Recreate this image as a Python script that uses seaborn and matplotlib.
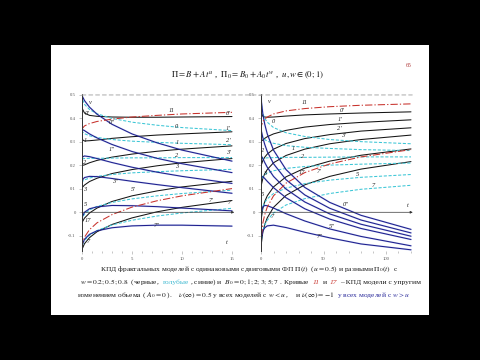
import matplotlib
matplotlib.use("Agg")
import matplotlib.pyplot as plt
from matplotlib.patches import Rectangle, ConnectionPatch
import pandas as pd
import seaborn as sns

# --- values ---
B0_LEVELS = [0, 1, 2, 3, 5, 7]

T_LEFT = [0, 0.05, 0.25, 0.75, 1.5, 3, 5, 7.5, 10, 15]
LEFT_W02 = [
    [0.500, 0.440, 0.423, 0.413, 0.409, 0.406, 0.405, 0.405, 0.406, 0.408],
    [0.350, 0.309, 0.304, 0.305, 0.308, 0.315, 0.322, 0.329, 0.334, 0.343],
    [0.227, 0.200, 0.202, 0.211, 0.221, 0.235, 0.248, 0.260, 0.269, 0.283],
    [0.125, 0.107, 0.116, 0.131, 0.145, 0.165, 0.182, 0.198, 0.211, 0.229],
    [-0.036, -0.040, -0.025, -0.003, 0.018, 0.046, 0.070, 0.091, 0.108, 0.132],
    [-0.156, -0.153, -0.134, -0.108, -0.083, -0.052, -0.024, 0.002, 0.021, 0.050],
]
LEFT_W05 = [
    [0.500, 0.481, 0.460, 0.438, 0.420, 0.400, 0.384, 0.371, 0.361, 0.348],
    [0.350, 0.343, 0.335, 0.326, 0.319, 0.310, 0.303, 0.298, 0.294, 0.288],
    [0.227, 0.228, 0.229, 0.230, 0.230, 0.231, 0.232, 0.232, 0.233, 0.233],
    [0.125, 0.132, 0.138, 0.146, 0.153, 0.161, 0.168, 0.173, 0.177, 0.183],
    [-0.036, -0.022, -0.008, 0.010, 0.025, 0.042, 0.057, 0.070, 0.080, 0.094],
    [-0.156, -0.139, -0.120, -0.098, -0.078, -0.054, -0.034, -0.016, -0.003, 0.017],
]
LEFT_W08 = [
    [0.500, 0.493, 0.476, 0.448, 0.418, 0.375, 0.334, 0.296, 0.265, 0.218],
    [0.350, 0.352, 0.348, 0.334, 0.317, 0.289, 0.259, 0.230, 0.207, 0.169],
    [0.227, 0.236, 0.240, 0.237, 0.229, 0.212, 0.192, 0.171, 0.153, 0.123],
    [0.125, 0.138, 0.148, 0.153, 0.152, 0.144, 0.132, 0.118, 0.105, 0.081],
    [-0.036, -0.017, 0.000, 0.015, 0.023, 0.029, 0.028, 0.024, 0.018, 0.006],
    [-0.156, -0.135, -0.115, -0.094, -0.079, -0.066, -0.058, -0.055, -0.055, -0.059],
]
LEFT_RED11 = [0.350, 0.358, 0.368, 0.378, 0.387, 0.397, 0.406, 0.413, 0.419, 0.426]
LEFT_RED17 = [-0.156, -0.133, -0.106, -0.074, -0.045, -0.010, 0.022, 0.049, 0.070, 0.101]

T_RIGHT = [0, 0.25, 1.5, 3, 5, 10, 20, 35, 55, 80, 120]
RIGHT_W02 = [
    [0.500, 0.423, 0.409, 0.406, 0.405, 0.406, 0.410, 0.415, 0.419, 0.423, 0.428],
    [0.350, 0.304, 0.308, 0.315, 0.322, 0.334, 0.349, 0.363, 0.374, 0.383, 0.394],
    [0.227, 0.202, 0.221, 0.235, 0.248, 0.269, 0.293, 0.314, 0.331, 0.346, 0.360],
    [0.125, 0.116, 0.145, 0.165, 0.182, 0.211, 0.242, 0.269, 0.292, 0.310, 0.329],
    [-0.036, -0.025, 0.018, 0.046, 0.070, 0.108, 0.151, 0.188, 0.218, 0.243, 0.270],
    [-0.156, -0.134, -0.083, -0.052, -0.024, 0.021, 0.072, 0.117, 0.153, 0.184, 0.216],
]
RIGHT_W05 = [
    [0.500, 0.460, 0.420, 0.400, 0.384, 0.361, 0.339, 0.323, 0.310, 0.301, 0.292],
    [0.350, 0.335, 0.319, 0.310, 0.303, 0.294, 0.284, 0.277, 0.272, 0.267, 0.263],
    [0.227, 0.229, 0.230, 0.231, 0.232, 0.233, 0.234, 0.234, 0.235, 0.236, 0.236],
    [0.125, 0.138, 0.153, 0.161, 0.168, 0.177, 0.187, 0.195, 0.201, 0.205, 0.210],
    [-0.036, -0.008, 0.025, 0.042, 0.057, 0.080, 0.103, 0.122, 0.137, 0.149, 0.161],
    [-0.156, -0.120, -0.078, -0.054, -0.034, -0.003, 0.031, 0.058, 0.080, 0.098, 0.115],
]
RIGHT_W08 = [
    [0.500, 0.476, 0.418, 0.375, 0.334, 0.265, 0.182, 0.106, 0.042, -0.013, -0.073],
    [0.350, 0.348, 0.317, 0.289, 0.259, 0.207, 0.139, 0.074, 0.017, -0.033, -0.088],
    [0.227, 0.240, 0.229, 0.212, 0.192, 0.153, 0.099, 0.044, -0.007, -0.051, -0.102],
    [0.125, 0.148, 0.152, 0.144, 0.132, 0.105, 0.062, 0.015, -0.029, -0.069, -0.116],
    [-0.036, 0.000, 0.023, 0.029, 0.028, 0.018, -0.006, -0.037, -0.071, -0.103, -0.143],
    [-0.156, -0.115, -0.079, -0.066, -0.058, -0.055, -0.065, -0.085, -0.109, -0.135, -0.160],
]
RIGHT_RED11 = [0.350, 0.368, 0.387, 0.397, 0.406, 0.419, 0.432, 0.442, 0.450, 0.456, 0.462]
RIGHT_RED17 = [-0.156, -0.106, -0.045, -0.010, 0.022, 0.070, 0.124, 0.169, 0.206, 0.236, 0.267]

# curve labels: (text, t, v)
LEFT_LABELS = [
    ("ν", 0.8, 0.467), ("0′", 0.55, 0.42), ("11", 9.0, 0.435), ("0′", 14.6, 0.42),
    ("0″", 3.0, 0.384), ("0", 9.4, 0.366), ("1′", 14.6, 0.356), ("1", 0.3, 0.305),
    ("1″", 3.0, 0.266), ("1", 9.5, 0.298), ("2′", 14.6, 0.304), ("2", 0.3, 0.212),
    ("2", 9.5, 0.242), ("3′", 14.6, 0.254), ("3", 9.5, 0.196), ("3″", 3.3, 0.131),
    ("3", 0.3, 0.098), ("5′", 5.1, 0.097), ("5", 0.4, 0.034), ("7′", 12.9, 0.052),
    ("7", 14.7, 0.041), ("17", 0.6, -0.035), ("7″", 7.5, -0.057), ("7", 0.6, -0.125),
    ("t", 14.5, -0.13),
]
RIGHT_LABELS = [
    ("ν", 7, 0.47), ("11", 35, 0.468), ("0′", 65, 0.434), ("0", 10, 0.386),
    ("1′", 63, 0.397), ("2′", 63, 0.359), ("3′", 66, 0.326), ("1", 26, 0.273),
    ("2", 33, 0.238), ("17", 33, 0.17), ("7′", 46, 0.174), ("5", 77, 0.161),
    ("7", 90, 0.113), ("t", 117, 0.027), ("0″", 68, 0.035), ("5″", 57, -0.061),
    ("7″", 47, -0.104), ("2", 1.2, 0.262), ("3", 2.7, 0.166), ("5", 1.6, 0.075),
    ("7", 9, -0.02),
]

BLACK = "#151515"
CYAN = "#3cc6d6"
NAVY = "#1e1e8c"
HALO = "#aabbf0"
RED = "#c8322c"
SERIF = ["Liberation Serif", "DejaVu Serif"]


def long_table(t, w02, w05, w08, red11, red17):
    rows = []
    for kind, curves in (("w02", w02), ("w05", w05), ("w08", w08)):
        for b0, vals in zip(B0_LEVELS, curves):
            for ti, vi in zip(t, vals):
                rows.append({"t": ti, "v": vi, "kind": kind, "series": f"{kind}_{b0}"})
    for name, vals in (("r11", red11), ("r17", red17)):
        for ti, vi in zip(t, vals):
            rows.append({"t": ti, "v": vi, "kind": "red", "series": name})
    return pd.DataFrame(rows)


def draw_panel(ax, df, labels, xmax, xticks, minor):
    colors = {"w02": BLACK, "w05": CYAN, "w08": NAVY, "red": RED}
    dashes_kind = {"w02": "", "w05": (3, 1.6), "w08": "", "red": (7, 2, 1.2, 2)}
    series = df.drop_duplicates("series")
    pal = dict(zip(series["series"], series["kind"].map(colors)))
    dash = dict(zip(series["series"], series["kind"].map(dashes_kind)))

    blue = df[df["kind"] == "w08"]
    sns.lineplot(data=blue, x="t", y="v", units="series", estimator=None, sort=False,
                 color=HALO, linewidth=1.3, alpha=0.55, legend=False, ax=ax)
    sns.lineplot(data=df, x="t", y="v", hue="series", style="series", palette=pal,
                 dashes=dash, estimator=None, sort=False, linewidth=0.75,
                 legend=False, ax=ax)

    ax.set_xlim(0, xmax)
    ax.set_ylim(-0.165, 0.505)
    ax.set_xlabel("")
    ax.set_ylabel("")
    ax.set_facecolor("none")
    for s in ("top", "right", "bottom"):
        ax.spines[s].set_visible(False)
    ax.spines["left"].set_color("#333333")
    ax.spines["left"].set_linewidth(0.7)
    ax.set_xticks(xticks)
    ax.set_xticks(minor, minor=True)
    ax.set_yticks([-0.1, 0, 0.1, 0.2, 0.3, 0.4, 0.5])
    ax.set_yticklabels(["-0.1", "0", "0.1", "0.2", "0.3", "0.4", "0.5"])
    ax.tick_params(axis="both", which="both", labelsize=3.4, labelcolor="#555555",
                   color="#999999", width=0.4, length=2, pad=2.5,
                   bottom=True, left=True)
    ax.tick_params(axis="x", which="minor", length=1.3)
    ax.annotate("", xy=(xmax * 0.995, 0), xytext=(0, 0),
                arrowprops=dict(arrowstyle="-|>", lw=0.5, color="#333333",
                                mutation_scale=3.5, shrinkA=0, shrinkB=0))
    for txt, tx, ty in labels:
        ax.text(tx, ty, txt, fontsize=4.6, style="italic", family=SERIF,
                color="#222222", ha="center", va="center")


def colored_line(fig, y, pieces, size, xc):
    # pieces of one caption line, each with its own colour, laid end to end
    r = fig.canvas.get_renderer()
    probe1 = fig.text(0, 0, "a a", fontsize=size, family=SERIF)
    probe2 = fig.text(0, 0, "aa", fontsize=size, family=SERIF)
    space = probe1.get_window_extent(r).width - probe2.get_window_extent(r).width
    probe1.remove()
    probe2.remove()
    items = []
    total = 0
    for s, color, style, gap in pieces:
        t = fig.text(0, y, s, color=color, fontsize=size, style=style,
                     family=SERIF, va="baseline")
        w = t.get_window_extent(r).width
        g = (gap + 0.5) * space
        items.append((t, w, g))
        total += w + g
    W = fig.get_figwidth() * fig.dpi
    x = xc * W - total / 2
    for t, w, g in items:
        t.set_x(x / W)
        x += w + g


sns.set_theme(style="white")
plt.rcParams["font.family"] = SERIF
plt.rcParams["mathtext.fontset"] = "stix"

fig = plt.figure(figsize=(4.8, 3.6), dpi=100, facecolor="black")
fig.patches.append(Rectangle((51 / 480, 45 / 360), 378 / 480, 270 / 360,
                             transform=fig.transFigure, facecolor="white",
                             edgecolor="none", zorder=-5))

ax1 = fig.add_axes([82 / 480, 0.3028, 153 / 480, 0.4367])
ax2 = fig.add_axes([261 / 480, 0.3028, 152.5 / 480, 0.4367])

df_left = long_table(T_LEFT, LEFT_W02, LEFT_W05, LEFT_W08, LEFT_RED11, LEFT_RED17)
df_right = long_table(T_RIGHT, RIGHT_W02, RIGHT_W05, RIGHT_W08, RIGHT_RED11, RIGHT_RED17)
draw_panel(ax1, df_left, LEFT_LABELS, 15.3, [0, 5, 10, 15], [1, 2, 3, 4, 6, 7, 8, 9, 11, 12, 13, 14])
draw_panel(ax2, df_right, RIGHT_LABELS, 122, [0, 50, 100],
           [10, 20, 30, 40, 60, 70, 80, 90, 110, 120])

# grey dashed ceiling at v = 0.5 running across both panels
ceiling = ConnectionPatch(xyA=(0, 0.5), coordsA=ax1.transData,
                          xyB=(121, 0.5), coordsB=ax2.transData,
                          color="#aaaaaa", lw=0.7, linestyle=(0, (4, 3)))
fig.add_artist(ceiling)

fig.text(0.515, 0.79, r"$\Pi = B + At^{u}$ ,  $\Pi_0 = B_0 + A_0t^{w}$ ,  $u, w \in (0;1)$",
         fontsize=6.3, ha="center", va="center", color="#111111")
fig.text(0.852, 0.817, "65", fontsize=4.2, color="#b03a3a", ha="center", va="center")

CAP = 5.4
colored_line(fig, 0.247, [
    (r"КПД фрактальных моделей с одинаковыми сдвиговыми ФП $\Pi(t)$  ($u = 0.5$) и разными $\Pi_0(t)$  с",
     "#1a1a1a", "normal", 0),
], CAP, 0.521)
colored_line(fig, 0.212, [
    (r"$w = 0.2;0.5;0.8$  (черные,", "#1a1a1a", "normal", 1),
    ("голубые", "#3cb8d0", "normal", 0),
    (r", синие) и  $B_0 = 0;1;2;3;5;7$ . Кривые", "#1a1a1a", "normal", 1),
    ("11", RED, "italic", 1),
    ("и", "#1a1a1a", "normal", 1),
    ("17", RED, "italic", 1),
    ("– КПД модели с упругим", "#1a1a1a", "normal", 0),
], CAP, 0.523)
colored_line(fig, 0.176, [
    (r"изменением объема ( $A_0 = 0$ ).    $\nu(\infty) = 0.5$ у всех моделей с $w < u$ ,    и $\nu(\infty) = -1$",
     "#1a1a1a", "normal", 1),
    (r"у всех моделей с $w > u$", "#2a2a9a", "normal", 0),
], CAP, 0.508)

fig.savefig("out.png", dpi=100, facecolor="black")
